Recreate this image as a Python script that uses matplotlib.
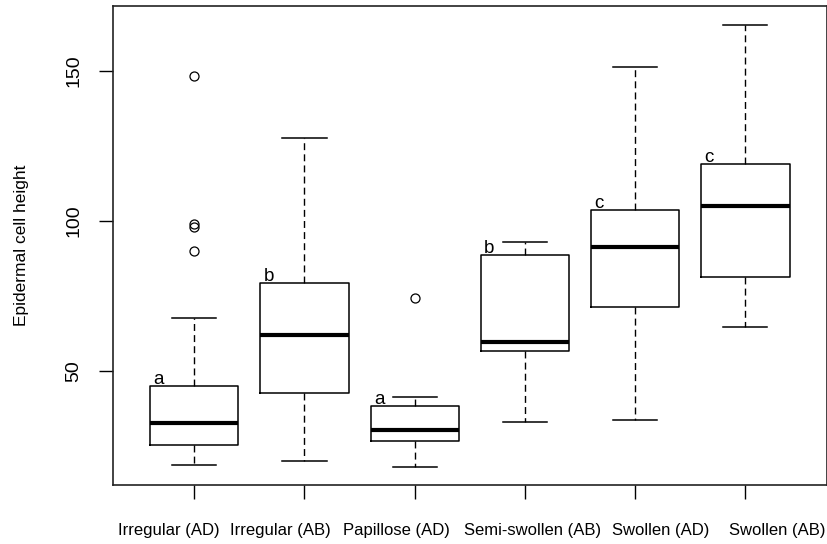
import matplotlib
matplotlib.use('Agg')
import matplotlib.pyplot as plt
import matplotlib.transforms as mtransforms

plt.rcParams['font.family'] = ['Liberation Sans', 'DejaVu Sans']

# values
groups = ['Irregular (AD)', 'Irregular (AB)', 'Papillose (AD)',
          'Semi-swollen (AB)', 'Swollen (AD)', 'Swollen (AB)']
whisker_low = [18.8, 20.1, 18.1, 33.1, 33.7, 64.7]
q1 = [25.2, 42.8, 26.7, 56.8, 71.3, 81.3]
median = [32.7, 61.9, 30.3, 59.6, 91.4, 105.1]
q3 = [45.0, 79.2, 38.3, 88.7, 103.8, 118.9]
whisker_high = [67.6, 127.8, 41.2, 92.9, 151.3, 165.4]
outliers = [[148.4, 98.9, 98.1, 90.1], [], [74.2], [], [], []]
letters = ['a', 'b', 'a', 'b', 'c', 'c']
# the group names in the original sit spread out a bit wider than the ticks
label_x = [0.77, 1.78, 2.83, 4.07, 5.23, 6.29]

stats = []
for i, name in enumerate(groups):
    stats.append({'label': name, 'whislo': whisker_low[i], 'q1': q1[i],
                  'med': median[i], 'q3': q3[i], 'whishi': whisker_high[i],
                  'fliers': outliers[i]})

fig = plt.figure(figsize=(8.28, 5.44), dpi=100)
ax = fig.add_axes([0.1361, 0.109, 0.8627, 0.880])

positions = list(range(1, len(groups) + 1))
ax.bxp(stats, positions=positions, widths=0.8,
       boxprops=dict(color='black', linewidth=1.1),
       medianprops=dict(color='black', linewidth=3.0, solid_capstyle='butt'),
       whiskerprops=dict(color='black', linewidth=1.0, linestyle=(0, (5, 3))),
       capprops=dict(color='black', linewidth=1.1),
       flierprops=dict(marker='o', markerfacecolor='none', markeredgecolor='black',
                       markersize=6.5, markeredgewidth=0.9),
       capwidths=0.4)

for x, top, lab in zip(positions, q3, letters):
    ax.text(x - 0.37, top + 0.7, lab, fontsize=13.5, ha='left', va='baseline')

ax.set_xlim(0.26, 6.74)
ax.set_ylim(12.1, 171.7)
ax.set_yticks([50, 100, 150])
ax.set_yticklabels(['50', '100', '150'], rotation=90, va='center', fontsize=14)
ax.set_xticks(positions)
ax.set_xticklabels([])
trans = mtransforms.blended_transform_factory(ax.transData, ax.transAxes)
for x, name in zip(label_x, groups):
    ax.text(x, -0.095, name, fontsize=12, ha='center', va='center',
            transform=trans, clip_on=False)
ax.tick_params(axis='y', length=10, width=1.0, pad=12)
ax.tick_params(axis='x', length=10, width=1.0)
ax.set_ylabel('Epidermal cell height', fontsize=12.5, labelpad=26)
for s in ax.spines.values():
    s.set_linewidth(1.2)
    s.set_color('#222222')

fig.savefig('out.png', dpi=100)
